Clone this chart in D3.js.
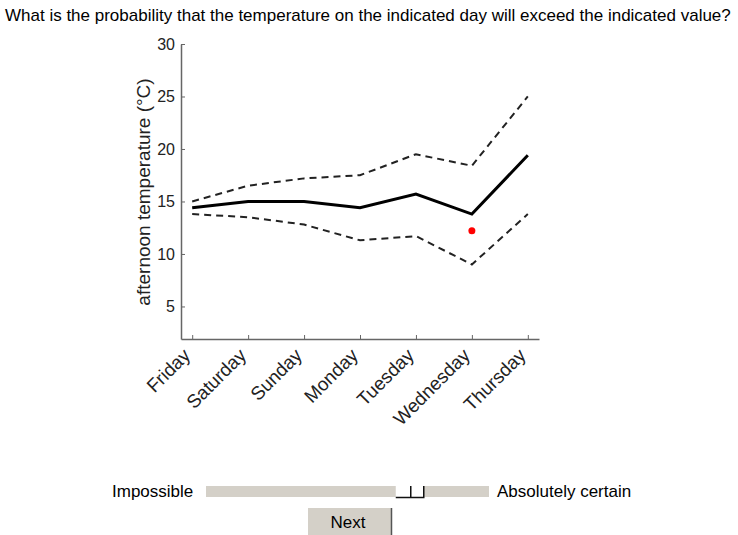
<!DOCTYPE html>
<html>
<head>
<meta charset="utf-8">
<script src="https://cdn.jsdelivr.net/npm/d3@7"></script>
<style>
  body { margin: 0; background: #fff; }
  svg { display: block; }
  .axis path, .axis line { stroke: #666; }
  .axis text { fill: #222; font-family: "Liberation Sans", Arial, sans-serif; }
</style>
</head>
<body>
<svg id="chart" width="738" height="535"></svg>
<script>
// forecast data
var days = ["Friday", "Saturday", "Sunday", "Monday", "Tuesday", "Wednesday", "Thursday"];
var meanTemp = [14.4, 15.0, 15.0, 14.4, 15.7, 13.8, 19.4];
var upperTemp = [15.0, 16.5, 17.2, 17.5, 19.5, 18.4, 25.0];
var lowerTemp = [13.8, 13.5, 12.8, 11.3, 11.7, 9.0, 13.8];
var yTicks = [5, 10, 15, 20, 25, 30];
var markDay = "Wednesday";
var markValue = 12.2;
var sliderValue = 0.72;

var svg = d3.select("#chart");
var sans = "'Liberation Sans', Arial, sans-serif";

svg.append("text")
    .attr("x", 5)
    .attr("y", 21)
    .style("font-family", sans)
    .style("font-size", "17px")
    .text("What is the probability that the temperature on the indicated day will exceed the indicated value?");

var x = d3.scalePoint().domain(days).range([181, 539]).padding(0.2);
var y = d3.scaleLinear().domain([1.9, 30]).range([339, 44]);

var yAxis = svg.append("g")
    .attr("class", "axis")
    .attr("transform", "translate(181,0)")
    .call(d3.axisLeft(y).tickValues(yTicks).tickSizeInner(-4).tickSizeOuter(0).tickPadding(6));
yAxis.selectAll("text").style("font-size", "16px");
yAxis.select(".domain").attr("stroke-width", 1.5);

var xAxis = svg.append("g")
    .attr("class", "axis")
    .attr("transform", "translate(0,339)")
    .call(d3.axisBottom(x).tickSizeInner(-4).tickSizeOuter(0));
xAxis.select(".domain").attr("stroke-width", 1.5);
xAxis.selectAll("text")
    .style("font-size", "18.8px")
    .attr("text-anchor", "end")
    .attr("y", 0)
    .attr("dy", "0.35em")
    .attr("transform", "translate(-6,13) rotate(-45)");

svg.append("text")
    .attr("transform", "translate(143,192) rotate(-90)")
    .attr("text-anchor", "middle")
    .attr("dy", "0.35em")
    .style("font-family", sans)
    .style("font-size", "19px")
    .style("fill", "#222")
    .text("afternoon temperature (\u00b0C)");

var line = d3.line()
    .x(function (d, i) { return x(days[i]); })
    .y(function (d) { return y(d); });

[upperTemp, lowerTemp].forEach(function (series) {
    svg.append("path")
        .attr("d", line(series))
        .attr("fill", "none")
        .attr("stroke", "#222")
        .attr("stroke-width", 2)
        .attr("stroke-dasharray", "7,5");
});

svg.append("path")
    .attr("d", line(meanTemp))
    .attr("fill", "none")
    .attr("stroke", "#000")
    .attr("stroke-width", 3);

svg.append("circle")
    .attr("cx", x(markDay))
    .attr("cy", y(markValue))
    .attr("r", 3.5)
    .attr("fill", "#f00");

// slider and button
var ui = svg.append("g").style("font-family", sans).style("font-size", "17px");
var s = d3.scaleLinear().domain([0, 1]).range([206, 489]);

ui.append("text").attr("x", 112).attr("y", 497).text("Impossible");
ui.append("text").attr("x", 497).attr("y", 497).text("Absolutely certain");
ui.append("rect").attr("x", s(0)).attr("y", 486).attr("width", s(1) - s(0)).attr("height", 11).attr("fill", "#d4d0c8");

var tx = s(sliderValue) - 14;
ui.append("rect").attr("x", tx).attr("y", 486).attr("width", 28).attr("height", 12).attr("fill", "#fff");
ui.append("path")
    .attr("d", "M" + tx + ",497.5H" + (tx + 28) + "V486M" + (tx + 15) + ",486V497.5")
    .attr("fill", "none")
    .attr("stroke", "#111")
    .attr("stroke-width", 1.5);

ui.append("rect").attr("x", 308).attr("y", 508).attr("width", 84).attr("height", 30).attr("fill", "#d4d0c8");
ui.append("path").attr("d", "M391.5,508V538").attr("stroke", "#555").attr("stroke-width", 1.5);
ui.append("text").attr("x", 348).attr("y", 528).attr("text-anchor", "middle").text("Next");
</script>
</body>
</html>
